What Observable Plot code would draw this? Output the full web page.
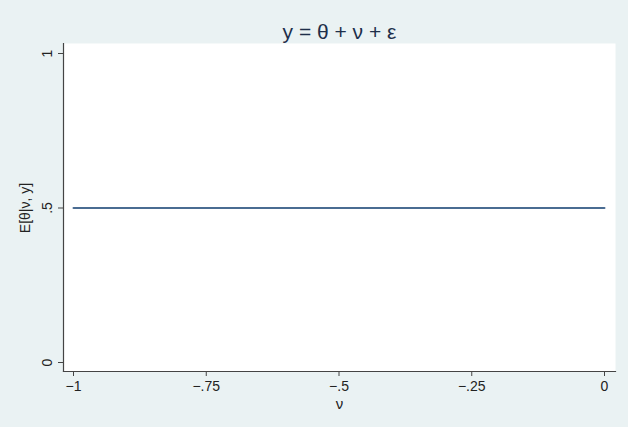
<!DOCTYPE html>
<html>
<head>
<meta charset="utf-8">
<script src="https://cdn.jsdelivr.net/npm/d3@7"></script>
<script src="https://cdn.jsdelivr.net/npm/@observablehq/plot@0.6"></script>
<style>
  html, body { margin: 0; padding: 0; background: #ffffff; }
  #chart svg { display: block; }
</style>
</head>
<body>
<div id="chart"></div>
<script>
const titleText = "y = θ + ν + ε";
const xLabelText = "ν";
const yLabelText = "E[θ|ν, y]";

const nuValues = [-1, 0];
const expValues = [0.5, 0.5];

const xTicks = [-1, -0.75, -0.5, -0.25, 0];
const xTickLabels = ["−1", "−.75", "−.5", "−.25", "0"];
const yTicks = [0, 0.5, 1];
const yTickLabels = ["0", ".5", "1"];

const data = nuValues.map((x, i) => ({x, y: expValues[i]}));
const font = "'Liberation Sans', Arial, Helvetica, sans-serif";
const ink = "#222";

const chart = Plot.plot({
  width: 628,
  height: 427,
  marginLeft: 63,
  marginRight: 13,
  marginTop: 43,
  marginBottom: 56,
  style: {background: "#EAF2F3", fontFamily: font, fontSize: "14px", color: ink},
  x: {domain: [-1, 0], range: [73, 604]},
  y: {domain: [0, 1], range: [362, 53]},
  marks: [
    Plot.frame({fill: "white", stroke: "none"}),
    Plot.frame({anchor: "left", stroke: "#444", strokeWidth: 1.2}),
    Plot.frame({anchor: "bottom", stroke: "#444", strokeWidth: 1.2}),
    Plot.axisX({
      ticks: xTicks,
      tickSize: 5,
      tickPadding: 5,
      tickFormat: (d) => xTickLabels[xTicks.indexOf(d)],
      label: null,
      fontSize: 14,
      stroke: "#444"
    }),
    Plot.axisY({
      ticks: yTicks,
      tickSize: 5,
      tickFormat: () => "",
      label: null,
      stroke: "#444"
    }),
    Plot.text(yTicks, {
      y: (d) => d,
      text: (d, i) => yTickLabels[i],
      frameAnchor: "left",
      textAnchor: "middle",
      lineAnchor: "middle",
      dx: -16,
      rotate: -90,
      fontSize: 14,
      fill: ink
    }),
    Plot.text([yLabelText], {
      y: 0.5,
      frameAnchor: "left",
      textAnchor: "middle",
      lineAnchor: "middle",
      dx: -38,
      rotate: -90,
      fontSize: 14,
      fill: ink
    }),
    Plot.text([xLabelText], {
      frameAnchor: "bottom",
      lineAnchor: "middle",
      dy: 33,
      fontSize: 15,
      fill: ink
    }),
    Plot.text([titleText], {
      frameAnchor: "top",
      lineAnchor: "middle",
      dy: -11,
      fontSize: 21,
      fill: "#1e2f4a"
    }),
    Plot.line(data, {x: "x", y: "y", stroke: "#4a6c92", strokeWidth: 2})
  ]
});
document.getElementById("chart").append(chart);
</script>
</body>
</html>
